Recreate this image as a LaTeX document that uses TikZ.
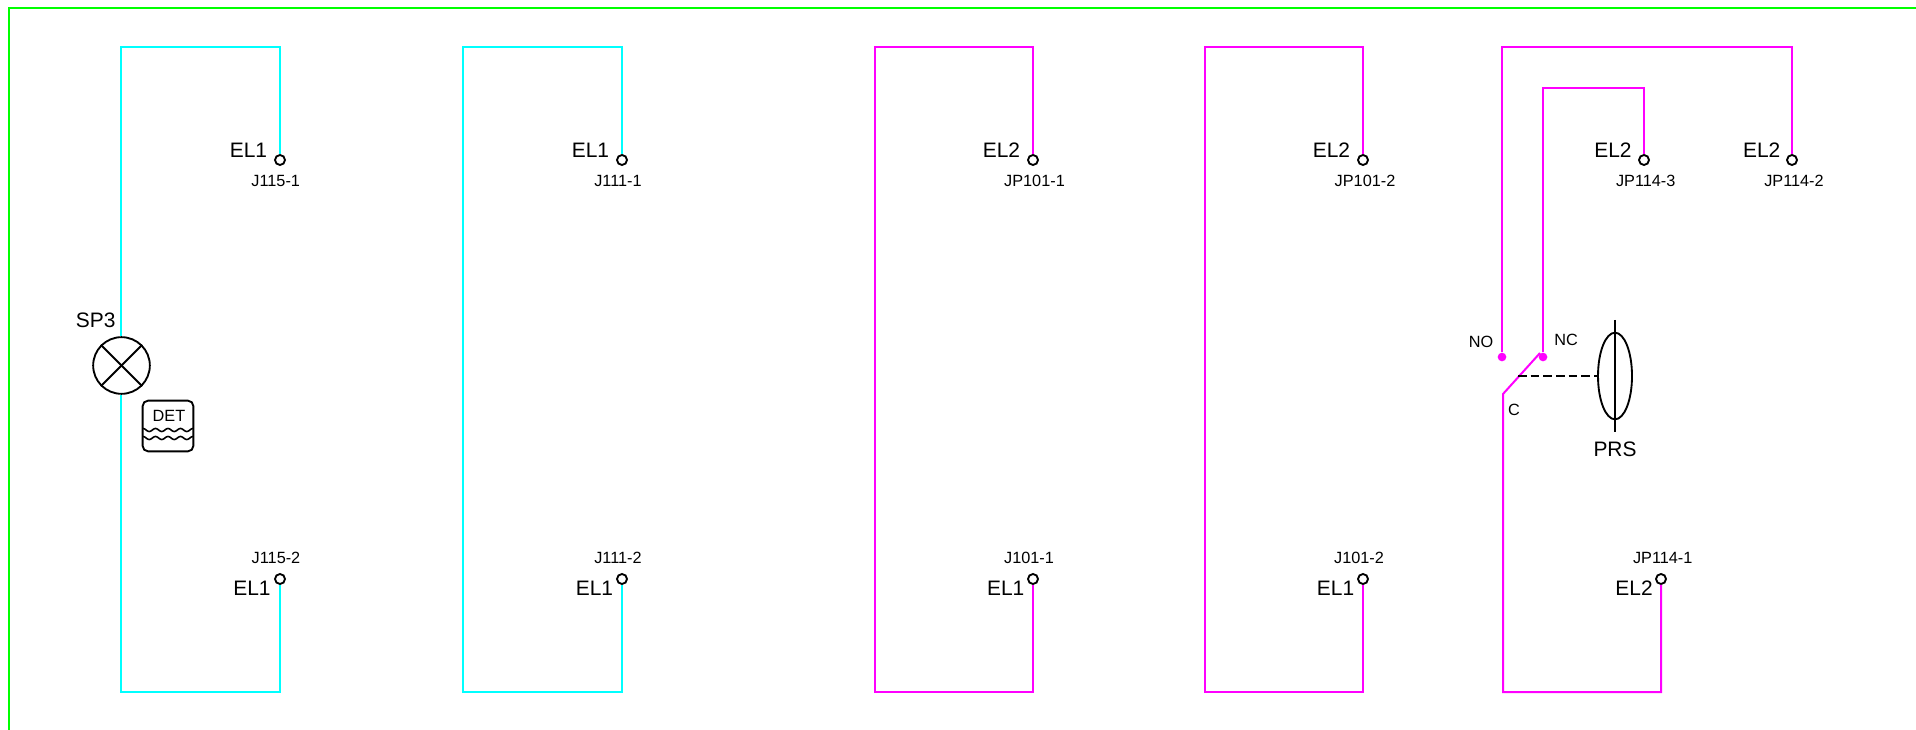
\documentclass[tikz,border=0pt]{standalone}
\usepackage{fontspec}
\usetikzlibrary{shapes.geometric}
\setmainfont{Liberation Sans}
\tikzset{
  px/.style={x=0.75pt,y=-0.75pt},
  wirec/.style={draw={rgb,255:red,0;green,255;blue,255},line width=1.5pt,line join=miter},
  wirem/.style={draw={rgb,255:red,255;green,0;blue,255},line width=1.5pt,line join=miter},
  wireg/.style={draw={rgb,255:red,0;green,255;blue,0},line width=1.5pt},
  sym/.style={draw=black,line width=1.4pt},
  term/.style={circle,draw=black,line width=1.4pt,fill=white,inner sep=0pt,minimum size=7.5pt},
  dotm/.style={circle,fill={rgb,255:red,255;green,0;blue,255},inner sep=0pt,minimum size=6.5pt},
  biglab/.style={inner sep=0pt,font=\fontsize{15.7pt}{18pt}\selectfont},
  smalllab/.style={inner sep=0pt,font=\fontsize{12.2pt}{14pt}\selectfont},
  midlab/.style={inner sep=0pt,font=\fontsize{12.2pt}{14pt}\selectfont},
}
\begin{document}
\begin{tikzpicture}[px]
\useasboundingbox (0,0) rectangle (1916,730);
% border
\coordinate (g1) at (9,730);
\coordinate (g2) at (9,8);
\coordinate (g3) at (1916,8);
\draw[wireg] (g1) -- (g2) -- (g3);

% loop 1
\node[term] (a1) at (280,160) {};
\node[term] (a2) at (280,579) {};
\coordinate (a3) at (121,47);
\coordinate (a4) at (121,692);
\node[circle,sym,inner sep=0pt,minimum size=42.5pt,fill=white] (lamp) at (121.5,365.5) {};
\draw[wirec] (a1.north) |- (a3) -- (a3 |- lamp.north);
\draw[wirec] (a3 |- lamp.south) -- (a4) -| (a2.south);
\draw[sym] (lamp.north west) -- (lamp.south east);
\draw[sym] (lamp.north east) -- (lamp.south west);
\node[biglab] (a5) at (248.5,150.5) {EL1};
\node[smalllab] (a6) at (275.7,180.5) {J115-1};
\node[smalllab] (a7) at (276,558) {J115-2};
\node[biglab] (a8) at (252,588.5) {EL1};
\node[biglab] (sp) at (95.7,320.5) {SP3};

% DET symbol
\node[draw=black,line width=1.4pt,rounded corners=4pt,minimum width=38pt,minimum height=38pt,inner sep=0pt] (det) at (168,426) {};
\node[midlab] (dett) at (169,415.5) {DET};
\draw[black,line width=1.2pt] plot[domain=143:193,samples=81,smooth] (\x,{430-1.5*cos(28.8*(\x-143))});
\draw[black,line width=1.2pt] plot[domain=143:193,samples=81,smooth] (\x,{438-1.5*cos(28.8*(\x-143))});

% loop 2
\node[term] (b1) at (622,160) {};
\node[term] (b2) at (622,579) {};
\coordinate (b3) at (463,47);
\coordinate (b4) at (463,692);
\draw[wirec] (b1.north) |- (b3) -- (b4) -| (b2.south);
\node[biglab] (b5) at (590.5,150.5) {EL1};
\node[smalllab] (b6) at (618,180.5) {J111-1};
\node[smalllab] (b7) at (618,558) {J111-2};
\node[biglab] (b8) at (594.5,588.5) {EL1};

% loop 3
\node[term] (c1) at (1033,160) {};
\node[term] (c2) at (1033,579) {};
\coordinate (c3) at (875,47);
\coordinate (c4) at (875,692);
\draw[wirem] (c1.north) |- (c3) -- (c4) -| (c2.south);
\node[biglab] (c5) at (1001.5,150.5) {EL2};
\node[smalllab] (c6) at (1034.5,180.5) {JP101-1};
\node[smalllab] (c7) at (1029,558) {J101-1};
\node[biglab] (c8) at (1005.7,588.5) {EL1};

% loop 4
\node[term] (d1) at (1363,160) {};
\node[term] (d2) at (1363,579) {};
\coordinate (d3) at (1205,47);
\coordinate (d4) at (1205,692);
\draw[wirem] (d1.north) |- (d3) -- (d4) -| (d2.south);
\node[biglab] (d5) at (1331.5,150.5) {EL2};
\node[smalllab] (d6) at (1365,180.5) {JP101-2};
\node[smalllab] (d7) at (1359,558) {J101-2};
\node[biglab] (d8) at (1335.6,588.5) {EL1};

% pressure switch group
\node[term] (e1) at (1644,160) {};
\node[term] (e2) at (1792,160) {};
\node[term] (e3) at (1661,579) {};
\node[dotm] (no) at (1502,357) {};
\node[dotm] (nc) at (1543,357) {};
\coordinate (e4) at (1502,47);
\coordinate (e5) at (1543,88);
\coordinate (e6) at (1503,692);
\coordinate (sw0) at (1503,394);
\coordinate (sw1) at (1540,353);
\coordinate (sw2) at (1518,376);
\draw[wirem] (e2.north) |- (e4) -- (no);
\draw[wirem] (e1.north) |- (e5) -- (nc);
\draw[wirem] (e3.south) |- (e6) -- (sw0) -- (sw1);
\node[draw=black,line width=1.4pt,ellipse,inner sep=0pt,minimum width=25.5pt,minimum height=65pt] (prs) at (1615,376) {};
\coordinate (p1) at (1615,320);
\coordinate (p2) at (1615,432);
\draw[sym] (p1) -- (p2);
\draw[draw=black,line width=1.5pt,dash pattern=on 6.5pt off 3pt] (sw2) -- (prs.west);
\node[biglab] (e7) at (1613,150.5) {EL2};
\node[biglab] (e8) at (1761.7,150.5) {EL2};
\node[smalllab] (e9) at (1645.7,180.5) {JP114-3};
\node[smalllab] (e10) at (1794,180.5) {JP114-2};
\node[smalllab] (e11) at (1662.7,558) {JP114-1};
\node[biglab] (e12) at (1634,588.5) {EL2};
\node[midlab] (e13) at (1481,342) {NO};
\node[midlab] (e14) at (1566,339.5) {NC};
\node[midlab] (e15) at (1514,409.5) {C};
\node[biglab] (e16) at (1615,449.5) {PRS};
\end{tikzpicture}
\end{document}
